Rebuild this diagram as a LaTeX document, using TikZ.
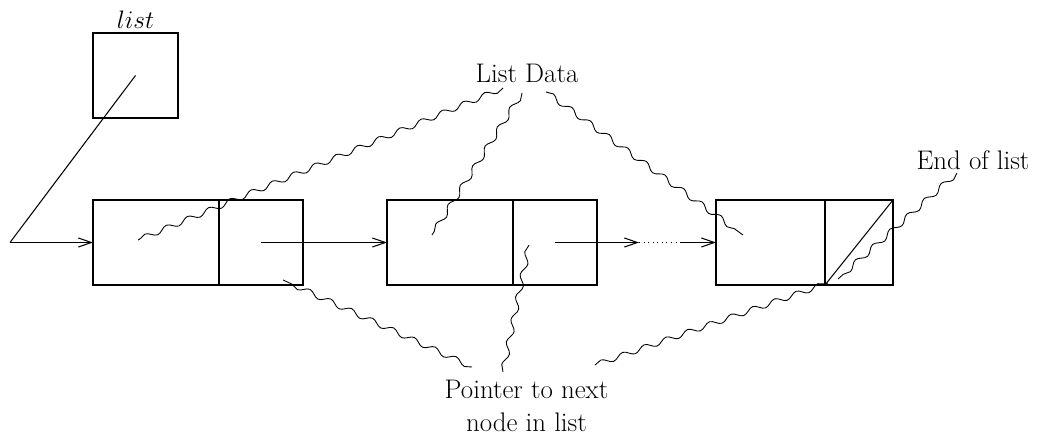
\documentclass[tikz,border=0pt]{standalone}
\usepackage{amsmath,amssymb}
\usepackage{xcolor}
\usepackage{tikz}
\usetikzlibrary{arrows.meta,positioning,decorations.pathmorphing}

\begin{document}
\begin{tikzpicture}[line width=0.6pt,
  cell/.style={draw,minimum height=1.7cm,inner sep=0pt,outer sep=0pt},
  lbl/.style={font=\fontsize{15.3}{19}\selectfont,align=center,inner sep=1pt},
  ar/.style={-{Straight Barb[length=2.6mm,width=1.8mm]}},
  wav/.style={decorate,decoration={snake,amplitude=0.055cm,segment length=0.46cm},line width=0.5pt}]
\useasboundingbox (0,0) rectangle (20.76,8.72);
% head pointer
\node[cell,minimum width=1.7cm,label={[font=\fontsize{15.3}{19}\selectfont,inner sep=2pt]above:$list$}] (head) at (2.71,7.21) {};
% list nodes
\node[cell,minimum width=2.52cm] (d1) at (3.12,3.87) {};
\node[cell,minimum width=1.68cm,right=0pt of d1] (p1) {};
\node[cell,minimum width=2.52cm] (d2) at (9.0,3.87) {};
\node[cell,minimum width=1.68cm,right=0pt of d2] (p2) {};
\node[cell,minimum width=2.18cm] (d3) at (15.41,3.87) {};
\node[cell,minimum width=1.36cm,right=0pt of d3] (p3) {};
% labels
\node[lbl] (ldata) at (10.54,7.26) {List Data};
\node[lbl] (eol) at (19.46,5.52) {End of list};
\node[lbl] (ptr) at (10.53,0.6) {Pointer to next\\node in list};
% pointers
\coordinate (hc) at (0.2,3.87);
\coordinate (g1) at (12.78,3.87);
\coordinate (g2) at (13.6,3.87);
\draw (head.center) -- (hc);
\draw[ar] (hc) -- (d1.west);
\draw[ar] (p1.center) -- (d2.west);
\draw[ar] (p2.center) -- (g1);
\draw[dotted] (g1) -- (g2);
\draw[ar] (g2) -- (d3.west);
\draw (p3.south west) -- (p3.north east);
% wavy callouts
\coordinate (a1) at (10.06,6.96); \coordinate (b1) at (2.76,3.92);
\coordinate (a2) at (10.44,6.86); \coordinate (b2) at (8.64,4.02);
\coordinate (a3) at (10.92,6.88); \coordinate (b3) at (14.86,4.02);
\coordinate (a4) at (19.14,5.26); \coordinate (b4) at (16.76,3.14);
\coordinate (a5) at (9.44,1.38);  \coordinate (b5) at (5.66,3.12);
\coordinate (a6) at (10.06,1.28); \coordinate (b6) at (10.58,3.82);
\coordinate (a7) at (11.9,1.42);  \coordinate (b7) at (16.56,3.06);
\draw[wav] (a1) -- (b1);
\draw[wav] (a2) -- (b2);
\draw[wav] (a3) -- (b3);
\draw[wav] (a4) -- (b4);
\draw[wav] (a5) -- (b5);
\draw[wav] (a6) -- (b6);
\draw[wav] (a7) -- (b7);
\end{tikzpicture}
\end{document}
